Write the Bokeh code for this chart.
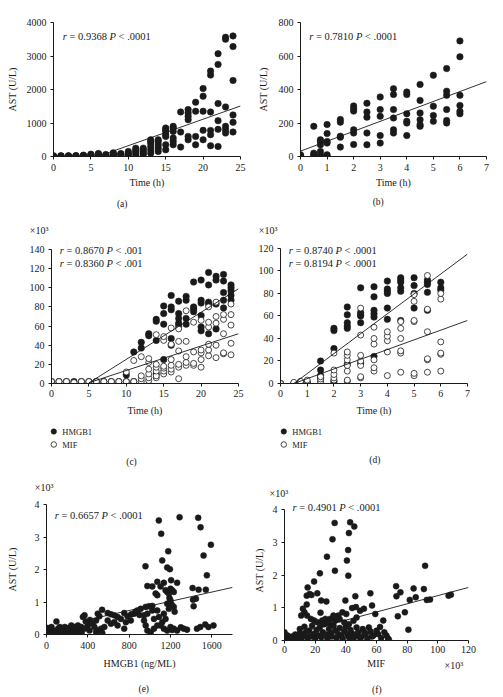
from bokeh.plotting import figure
from bokeh.models import Range1d, FixedTicker, Label
from bokeh.layouts import column, row
from bokeh.embed import file_html
from bokeh.resources import INLINE

SERIF = "Liberation Serif"
INK = "#1a1a1a"

# ---------------- (a) AST vs time ----------------
a_times = list(range(25))
a_ast = [[5, 10, 20], [10, 15, 20], [10, 15, 20], [15, 20, 25], [20, 30, 40],
         [20, 30, 50, 70], [30, 50, 70, 90], [30, 40, 60], [30, 50, 80, 110], [40, 70, 90],
         [30, 60, 100, 150], [30, 100, 150, 200, 250], [50, 100, 150, 200, 250],
         [100, 200, 300, 400, 450, 500], [150, 250, 350, 450, 500],
         [200, 350, 600, 650, 750, 800, 850], [350, 450, 550, 750, 850, 900],
         [280, 730, 1330], [500, 600, 1100, 1200, 1300, 1400], [350, 600, 1350, 1620],
         [500, 780, 1350, 1800, 2030], [320, 650, 780, 1330, 2430, 2550],
         [300, 810, 1070, 1580, 2750, 3070], [700, 800, 900, 1480, 3500, 3560],
         [730, 1020, 1240, 2270, 3280, 3600]]
a_stats = ("0.9368", ".0001")
a_fit = (79.0, -467.0)          # slope, intercept
a_fit_span = (6.8, 25)
a_xticks = [0, 5, 10, 15, 20, 25]
a_yticks = [0, 1000, 2000, 3000, 4000]

# ---------------- (b) AST vs time (early) ----------------
b_times = [0, 0.5, 0.75, 1, 1.5, 2, 2.5, 3, 3.5, 4, 4.5, 5, 5.5, 6]
b_ast = [[0, 5, 10], [0, 10, 20, 180], [0, 10, 30, 70, 90, 100], [0, 10, 80, 90, 137, 191],
         [56, 115, 121, 205, 221], [72, 140, 159, 271, 285, 302], [70, 140, 235, 265, 318],
         [80, 125, 240, 280, 355], [140, 160, 230, 280, 370, 405], [125, 200, 210, 255, 370, 385],
         [180, 190, 220, 260, 335, 430], [210, 245, 300, 485], [200, 215, 280, 365, 390, 525],
         [255, 270, 305, 365, 595, 690]]
b_stats = ("0.7810", ".0001")
b_fit = (59.3, 32.0)
b_fit_span = (0, 7)
b_xticks = [0, 1, 2, 3, 4, 5, 6, 7]
b_yticks = [0, 200, 400, 600, 800]

# ---------------- (c) HMGB1 / MIF vs time (x10^3) ----------------
c_times = list(range(25))
c_hmgb1 = [[2], [2], [2], [2], [2], [2], [2], [2], [2], [2],
           [2, 9], [2, 33], [37, 43], [50, 52], [10, 45, 65, 67], [25, 62, 73, 81],
           [40, 47, 77, 80, 92], [60, 63, 68, 73, 86], [62, 68, 87, 91], [75, 78, 80, 106],
           [55, 59, 71, 84, 87, 108], [52, 83, 85, 103, 116], [57, 83, 108, 112],
           [79, 87, 95, 107, 114], [87, 92, 97, 100, 103]]
c_mif = [[2], [2], [2], [1], [2], [2], [2], [2], [2], [2],
         [2, 12], [2, 24], [2, 5, 8, 28], [3, 6, 10, 15, 22, 26], [6, 8, 13, 17, 20, 51],
         [10, 13, 16, 18, 45, 49], [12, 15, 19, 25, 41, 58], [5, 17, 20, 34, 44, 57],
         [19, 22, 28, 44, 76], [19, 21, 33, 64], [17, 25, 32, 35, 66],
         [29, 35, 41, 59, 64, 80], [27, 40, 63, 70, 85], [31, 32, 52, 67, 72],
         [30, 42, 61, 72, 83]]
c_stats = [("0.8670", ".001"), ("0.8360", ".001")]
c_fit_hmgb1 = (4.92, -24.0)
c_fit_mif = (2.56, -12.0)
c_fit_span = (5, 25)
c_xticks = [0, 5, 10, 15, 20, 25]
c_yticks = [0, 20, 40, 60, 80, 100, 120, 140]

# ---------------- (d) HMGB1 / MIF vs time, early (x10^3) ----------------
d_times = [0, 0.5, 0.75, 1, 1.5, 2, 2.5, 3, 3.5, 4, 4.5, 5, 5.5, 6]
d_hmgb1 = [[0], [0], [0, 1], [0, 1], [5, 7, 12, 20], [0, 2, 31, 47, 49],
           [17, 49, 51, 54, 61, 68], [18, 54, 60, 61, 63, 85], [24, 59, 62, 65, 77, 86],
           [57, 67, 80, 82, 84, 91], [56, 82, 85, 90, 92, 94], [67, 80, 87, 94],
           [65, 81, 88, 90, 92], [83, 85, 90]]
d_mif = [[0], [0, 1], [0, 1, 2], [0, 1, 3], [1, 2, 4, 6], [3, 5, 8, 12, 27],
         [2, 3, 11, 16, 21, 25, 28], [5, 6, 16, 20, 25, 43, 67], [11, 14, 21, 35, 40, 50],
         [7, 28, 38, 42, 46], [10, 27, 29, 40, 49, 55], [7, 9, 55, 56, 73, 79],
         [10, 21, 22, 46, 66, 96], [11, 26, 27, 37, 75, 80]]
d_stats = [("0.8740", ".0001"), ("0.8194", ".0001")]
d_fit_hmgb1 = (17.7, -8.85)
d_fit_mif = (8.62, -4.31)
d_fit_span = (0.5, 7)
d_xticks = [0, 1, 2, 3, 4, 5, 6, 7]
d_yticks = [0, 20, 40, 60, 80, 100, 120]

# ---------------- (e) AST (x10^3) vs HMGB1 ----------------
e_hmgb1 = [1087, 1288, 1468, 1491, 1110, 1591, 1178, 1520, 1120, 958, 1168, 1194, 1552,
           976, 1024, 1072, 1104, 1136, 1152, 1168, 1184, 1200, 1216, 1232, 1264, 1206, 1056, 1072,
           1414, 1472, 1542, 1418, 1446, 1424,
           1168, 1200, 1216, 1232, 1184, 1200, 1190, 960, 992, 1024, 912, 880,
           976, 944, 1024, 1072, 1040, 1088, 1136, 1120, 1104, 1152, 1240,
           944, 960, 976, 1008, 1040, 1072,
           1136, 1168, 1216, 1264, 1328, 1360, 1456, 1488, 1536, 1568, 1616, 1200, 1232, 1300,
           538, 496, 512, 480, 592, 624, 656, 688, 720, 752, 784, 816, 848, 768, 624, 688, 752,
           592, 656, 560, 860, 900, 820,
           368, 352, 432, 448, 400, 464, 496, 528, 416, 336, 304, 540, 480, 380, 420,
           96, 0, 16, 32, 64, 112, 144, 176, 192, 224, 240, 256, 288, 160, 80, 208, 272, 320,
           368, 128, 48, 10, 5, 24, 40, 56, 88, 120, 136, 180, 200, 232, 260, 300, 340, 0, 8]
e_ast = [3.51, 3.61, 3.59, 3.30, 3.10, 2.76, 2.56, 2.43, 2.28, 2.10, 2.06, 2.01, 1.82,
         1.49, 1.48, 1.62, 1.48, 1.59, 1.36, 1.31, 1.26, 1.41, 1.36, 1.31, 1.59, 1.67, 1.26, 1.21,
         1.43, 1.38, 1.38, 1.07, 1.10, 0.87,
         0.95, 0.97, 0.90, 0.85, 0.79, 1.05, 1.12, 0.85, 0.87, 0.88, 0.79, 0.74,
         0.64, 0.59, 0.74, 0.74, 0.48, 0.54, 0.64, 0.38, 0.28, 0.48, 0.70,
         0.43, 0.28, 0.12, 0.07, 0.18, 0.28,
         0.18, 0.12, 0.14, 0.12, 0.18, 0.15, 0.18, 0.23, 0.31, 0.23, 0.28, 0.23, 0.18, 0.22,
         0.76, 0.64, 0.56, 0.43, 0.66, 0.62, 0.59, 0.54, 0.48, 0.66, 0.56, 0.43, 0.64, 0.38, 0.33, 0.28, 0.18,
         0.43, 0.38, 0.23, 0.70, 0.60, 0.62,
         0.59, 0.54, 0.38, 0.33, 0.28, 0.23, 0.12, 0.18, 0.12, 0.23, 0.28, 0.05, 0.08, 0.40, 0.45,
         0.40, 0.12, 0.07, 0.18, 0.12, 0.18, 0.10, 0.23, 0.12, 0.18, 0.28, 0.12, 0.18, 0.07, 0.04, 0.07, 0.23, 0.12,
         0.18, 0.23, 0.23, 0.20, 0.03, 0.10, 0.05, 0.02, 0.10, 0.06, 0.14, 0.03, 0.20, 0.05, 0.03, 0.08, 0.05, 0.05, 0.15]
e_stats = ("0.6657", ".0001")
e_fit = (0.00071, 0.17)
e_fit_span = (360, 1800)
e_xticks = [0, 400, 800, 1200, 1600]
e_yticks = [0, 1, 2, 3, 4]

# ---------------- (f) AST (x10^3) vs MIF (x10^3) ----------------
f_mif = [32.7, 42.8, 45.5, 42.0, 31.3, 41.5, 27.7, 40.7, 91.7, 32.9, 23.1, 41.6, 19.3,
         15.1, 14.5, 16.4, 17.6, 21.4, 23.9, 27.3, 39.7, 46.2, 56.0, 72.8, 73.0, 75.6, 73.9, 78.5,
         80.8, 81.7, 84.2, 85.6, 90.9, 92.8, 94.9, 107.0, 108.5,
         57.1, 51.8, 49.3, 46.6, 44.1, 14.5,
         12.0, 13.0, 10.9, 14.7, 17.2, 19.3, 21.4, 24.6, 26.7, 29.8, 31.9, 35.1, 37.8, 40.3, 23.5,
         59.2, 64.4, 62.3, 65.1, 66.5, 67.6, 60.0, 58.0, 55.0, 52.0, 50.0,
         0, 0, 1, 2, 3, 4, 5, 6, 7, 8, 9, 10, 10, 11, 12, 13, 14, 15, 16, 17, 18, 19, 20, 21, 22,
         23, 24, 25, 26, 27, 28, 29, 30, 31, 32, 33, 34, 35, 36, 37, 38, 39, 40, 41, 42, 43, 44,
         45, 46, 47, 48, 49, 51, 53, 54, 56, 57, 61, 63, 68,
         28, 33, 36, 39, 42, 30, 45, 47, 25]
f_ast = [3.59, 3.61, 3.48, 3.28, 3.09, 2.76, 2.56, 2.44, 2.28, 2.13, 2.05, 1.98, 1.80,
         1.62, 1.37, 1.42, 1.39, 1.44, 1.22, 1.19, 1.22, 1.35, 1.44, 1.66, 1.35, 1.47, 0.74, 0.86,
         0.33, 1.24, 1.59, 1.32, 1.57, 1.24, 1.25, 1.37, 1.40,
         1.07, 0.97, 0.91, 1.02, 0.99, 1.10,
         0.97, 0.86, 0.76, 0.76, 0.66, 0.61, 0.56, 0.61, 0.66, 0.66, 0.76, 0.76, 0.86, 0.81, 0.85,
         0.81, 0.61, 0.41, 0.25, 0.15, 0.05, 0.30, 0.15, 0.40, 0.25, 0.10,
         0.25, 0.10, 0.05, 0.15, 0.02, 0.08, 0.12, 0.04, 0.18, 0.06, 0.10, 0.22, 0.35, 0.05, 0.15,
         0.42, 0.25, 0.08, 0.30, 0.12, 0.45, 0.20, 0.05, 0.32, 0.15, 0.40, 0.10, 0.25, 0.50, 0.18,
         0.05, 0.35, 0.22, 0.12, 0.45, 0.30, 0.08, 0.20, 0.38, 0.15, 0.05, 0.28, 0.42, 0.18, 0.10,
         0.32, 0.22, 0.05, 0.15, 0.40, 0.25, 0.10, 0.35, 0.18, 0.05, 0.28, 0.12, 0.20, 0.08, 0.03,
         0.55, 0.60, 0.65, 0.55, 0.50, 0.48, 0.60, 0.70, 0.50]
f_stats = ("0.4901", ".0001")
f_fit = (0.0125, 0.12)
f_fit_span = (0, 120)
f_xticks = [0, 20, 40, 60, 80, 100, 120]
f_yticks = [0, 1, 2, 3, 4]

multiplier = "×10³"
captions = ["(a)", "(b)", "(c)", "(d)", "(e)", "(f)"]
series_names = ["HMGB1", "MIF"]


def flat(times, groups):
    xs, ys = [], []
    for t, g in zip(times, groups):
        for v in g:
            xs.append(t)
            ys.append(v)
    return xs, ys


def make_fig(w, h, lft, rgt, top, bot, xr, yr, xticks, yticks, xlabel, ylabel,
             xl_st=3, yl_st=6, xt_st=3, yt_st=4, ybounds=None):
    p = figure(width=w, height=h, x_range=Range1d(*xr), y_range=Range1d(*yr),
               output_backend="svg", toolbar_location=None,
               min_border_left=lft, min_border_right=rgt,
               min_border_top=top, min_border_bottom=bot)
    p.outline_line_color = None
    p.xgrid.visible = False
    p.ygrid.visible = False
    p.background_fill_color = "white"
    p.border_fill_color = "white"
    for ax, ticks, lab, lst, tst in ((p.xaxis[0], xticks, xlabel, xl_st, xt_st),
                                     (p.yaxis[0], yticks, ylabel, yl_st, yt_st)):
        ax.ticker = FixedTicker(ticks=ticks)
        ax.minor_tick_line_color = None
        ax.major_tick_in = 0
        ax.major_tick_out = 3
        ax.major_label_standoff = tst
        ax.axis_line_color = INK
        ax.axis_line_width = 1
        ax.major_tick_line_color = INK
        ax.major_label_text_font = SERIF
        ax.major_label_text_font_size = "10px"
        ax.major_label_text_color = INK
        if lab:
            ax.axis_label = lab
            ax.axis_label_text_font = SERIF
            ax.axis_label_text_font_style = "normal"
            ax.axis_label_text_font_size = "10px"
            ax.axis_label_text_color = INK
            ax.axis_label_standoff = lst
    if ybounds is not None:
        p.yaxis[0].bounds = ybounds
    return p


def strip(x0, y0, w, h):
    """Text-only panel whose data units equal page pixels."""
    p = figure(width=w, height=h, x_range=Range1d(x0, x0 + w), y_range=Range1d(y0 + h, y0),
               x_axis_type=None, y_axis_type=None, output_backend="svg",
               toolbar_location=None, min_border=0)
    p.outline_line_color = None
    p.grid.visible = False
    p.background_fill_color = "white"
    p.border_fill_color = "white"
    return p


def txt(p, dx, dy, text, size="10px", align="left", style="normal"):
    p.add_layout(Label(x=p.x_range.start, y=p.y_range.start, x_offset=dx, y_offset=dy,
                       text=text, text_font=SERIF, text_font_size=size,
                       text_font_style=style, text_align=align,
                       text_baseline="middle", text_color=INK))


def stxt(p, x, y, text, size="10px", align="left"):
    p.add_layout(Label(x=x, y=y, text=text, text_font=SERIF, text_font_size=size,
                       text_align=align, text_baseline="middle", text_color=INK))


EM = {".": 0.25, " ": 0.25, "=": 0.564, "<": 0.564}


def width(s, size):
    return sum(EM.get(c, 0.5) for c in s) * size


def stats_text(p, dx, dy, r, pv, size=10.5):
    fs = f"{size}px"
    sp = 0.25 * size
    x = dx
    txt(p, x, dy, "r", fs, style="italic")
    x += 0.389 * size + sp
    s1 = "= " + r
    txt(p, x, dy, s1, fs)
    x += width(s1, size) + sp
    txt(p, x, dy, "P", fs, style="italic")
    x += 0.611 * size + sp
    txt(p, x, dy, "< " + pv, fs)


def fit_line(p, fit, span):
    m, b = fit
    xs = list(span)
    p.line(xs, [m * x + b for x in xs], line_color=INK, line_width=0.9)


def dots(p, xs, ys, size=6.5):
    return p.scatter(xs, ys, marker="circle", size=size, fill_color=INK, line_color=INK,
                     line_width=0.5)


def rings(p, xs, ys, size=6):
    return p.scatter(xs, ys, marker="circle", size=size, fill_color="white", line_color=INK,
                     line_width=0.8)


def key(p, x, y_top):
    """Legend key: marker + label for each series, rows 13 px apart."""
    dots(p, [x], [y_top], size=5.5)
    rings(p, [x], [y_top + 13], size=5.5)
    stxt(p, x + 8.5, y_top, series_names[0], "8.5px")
    stxt(p, x + 8.5, y_top + 13, series_names[1], "8.5px")


# ---- row 1 : (a) (b) ----
pa = make_fig(250, 192, 53, 10, 22, 36, (0, 25), (0, 4000), a_xticks, a_yticks,
              "Time (h)", "AST (U/L)", 3, 6, xt_st=4)
x, y = flat(a_times, a_ast)
dots(pa, x, y)
fit_line(pa, a_fit, a_fit_span)
stats_text(pa, 9.3, 120, *a_stats)

pb = make_fig(253, 192, 50, 17, 22, 36, (0, 7), (0, 800), b_xticks, b_yticks,
              "Time (h)", "AST (U/L)", 3, 7, xt_st=4)
x, y = flat(b_times, b_ast)
dots(pb, x, y)
fit_line(pb, b_fit, b_fit_span)
stats_text(pb, 8.7, 120, *b_stats)

s1 = strip(0, 192, 503, 48)
stxt(s1, 121.7, 203, captions[0], "9.5px", "center")
stxt(s1, 377.7, 201.5, captions[1], "9.5px", "center")
stxt(s1, 29.3, 230, multiplier)
stxt(s1, 258.3, 230, multiplier)

# ---- row 2 : (c) (d) ----
pc = make_fig(250, 180, 51, 12, 2, 37, (0, 25), (0, 147.3), c_xticks, c_yticks,
              "Time (h)", None, 5, 0, xt_st=3, ybounds=(0, 140))
x, y = flat(c_times, c_hmgb1)
dots(pc, x, y)
x, y = flat(c_times, c_mif)
rings(pc, x, y)
fit_line(pc, c_fit_hmgb1, c_fit_span)
fit_line(pc, c_fit_mif, c_fit_span)
stats_text(pc, 8.3, 133, *c_stats[0])
stats_text(pc, 8.3, 119.7, *c_stats[1])

pd_ = make_fig(253, 180, 30, 36, 2, 37, (0, 7), (0, 125.33), d_xticks, d_yticks,
               "Time (h)", None, 5, 0, xt_st=3, ybounds=(0, 120))
x, y = flat(d_times, d_hmgb1)
dots(pd_, x, y)
x, y = flat(d_times, d_mif)
rings(pd_, x, y)
fit_line(pd_, d_fit_hmgb1, d_fit_span)
fit_line(pd_, d_fit_mif, d_fit_span)
stats_text(pd_, 8.3, 133, *d_stats[0])
stats_text(pd_, 8.3, 119.7, *d_stats[1])

s2 = strip(0, 420, 503, 79)
key(s2, 53.3, 431)
key(s2, 283.3, 431)
stxt(s2, 131, 461, captions[2], "9.5px", "center")
stxt(s2, 374.3, 459.5, captions[3], "9.5px", "center")
stxt(s2, 34.3, 487.3, multiplier)
stxt(s2, 269, 493, multiplier)

# ---- row 3 : (e) (f) ----
pe = make_fig(250, 173, 46, 18, 5, 38, (0, 1800), (0, 4), e_xticks, e_yticks,
              "HMGB1 (ng/ML)", "AST (U/L)", 6, 14, xt_st=4)
dots(pe, e_hmgb1, e_ast, size=6)
fit_line(pe, e_fit, e_fit_span)
stats_text(pe, 8.3, 119, *e_stats)
se = strip(0, 672, 250, 25)
stxt(se, 130.7, 688, captions[4], "9.5px", "center")

pf = make_fig(253, 158, 31, 35, 1, 17, (0, 120), (0, 4.275), f_xticks, f_yticks,
              None, "AST (U/L)", 0, 5, xt_st=2, ybounds=(0, 4))
dots(pf, f_mif, f_ast, size=6)
fit_line(pf, f_fit, f_fit_span)
stats_text(pf, 8, 133.3, *f_stats)
sf = strip(250, 657, 253, 40)
stxt(sf, 376, 663, "MIF", "10px", "center")
stxt(sf, 470, 665, multiplier)
stxt(sf, 377, 689, captions[5], "9.5px", "center")

layout = column(row(pa, pb), s1, row(pc, pd_), s2,
                row(column(pe, se), column(pf, sf)))
open("out.html", "w").write(file_html(layout, INLINE))
